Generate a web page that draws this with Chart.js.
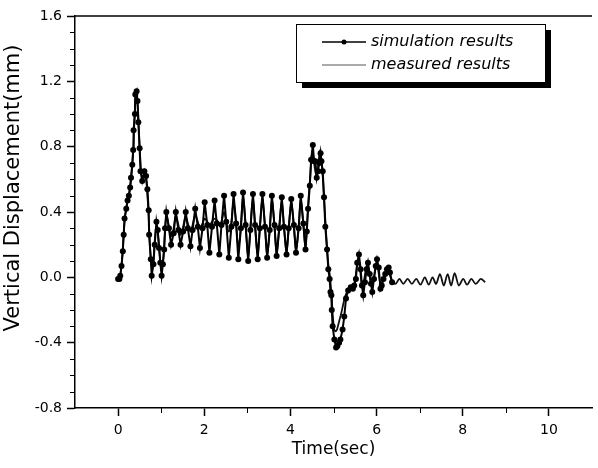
<!DOCTYPE html>
<html>
<head>
<meta charset="utf-8">
<script src="https://cdn.jsdelivr.net/npm/chart.js@4.4.0/dist/chart.umd.min.js"></script>
<style>
html, body { margin: 0; padding: 0; background: #fff; overflow: hidden; }
</style>
</head>
<body>
<canvas id="chart" width="598" height="468"></canvas>
<script>
// simulation results (dots)
const simTime = [
  0.00,0.03,0.05,0.08,0.11,0.13,0.15,0.19,0.22,0.25,0.28,0.30,0.33,0.35,0.36,0.39,0.40,0.43,0.45,0.47,
  0.50,0.52,0.56,0.61,0.65,0.68,0.71,0.72,0.76,0.78,0.82,0.85,0.89,0.92,0.95,0.98,1.01,1.04,1.07,1.09,
  1.12,1.18,1.23,1.29, 1.34,1.40,1.45,1.51, 1.57,1.62,1.68,1.73, 1.79,1.85,1.90,1.96,
  2.01,2.07,2.12,2.18, 2.24,2.29,2.35,2.40, 2.46,2.51,2.57,2.63, 2.68,2.74,2.79,2.85,
  2.90,2.96,3.02,3.07, 3.13,3.18,3.24,3.29, 3.35,3.41,3.46,3.52, 3.57,3.63,3.68,3.74,
  3.80,3.85,3.91,3.96, 4.02,4.08,4.13,4.19, 4.24,4.30,4.35,
  4.38,4.41,4.45,4.48,4.52,4.55,4.58,4.61,4.64,4.67,4.70,4.72,4.75,4.78,4.81,4.85,4.88,4.91,4.93,4.95,
  4.96,4.98,5.02,5.06,5.09,5.13,5.16,5.21,5.25,5.29,5.34,5.40,5.45,5.48,5.52,5.55,5.59,5.63,5.66,5.69,
  5.73,5.77,5.80,5.84,5.87,5.90,5.94,5.98,6.01,6.05,6.09,6.12,6.16,6.20,6.24,6.28,6.31,6.36
];
const simDisp = [
  -0.01,-0.01,0.01,0.07,0.16,0.26,0.36,0.42,0.47,0.50,0.55,0.61,0.69,0.78,0.90,1.00,1.12,1.14,1.08,0.95,
  0.79,0.65,0.59,0.65,0.62,0.54,0.41,0.26,0.11,0.01,0.08,0.20,0.34,0.29,0.18,0.09,0.01,0.08,0.17,0.30,
  0.40,0.30,0.20,0.27, 0.40,0.29,0.20,0.28, 0.40,0.30,0.19,0.29, 0.42,0.31,0.18,0.30,
  0.46,0.32,0.15,0.31, 0.47,0.33,0.14,0.32, 0.50,0.34,0.12,0.31, 0.51,0.33,0.11,0.30,
  0.52,0.32,0.10,0.29, 0.51,0.32,0.11,0.30, 0.51,0.31,0.12,0.29, 0.50,0.32,0.13,0.30,
  0.49,0.31,0.14,0.30, 0.48,0.32,0.15,0.30, 0.50,0.33,0.17,
  0.28,0.42,0.56,0.72,0.81,0.71,0.71,0.61,0.65,0.70,0.76,0.71,0.65,0.49,0.31,0.17,0.05,-0.01,-0.09,-0.11,
  -0.20,-0.30,-0.38,-0.43,-0.42,-0.40,-0.38,-0.32,-0.24,-0.13,-0.08,-0.06,-0.07,-0.05,-0.01,0.09,0.14,0.05,-0.05,-0.11,
  -0.03,0.05,0.09,0.02,-0.04,-0.09,-0.01,0.07,0.11,0.06,-0.07,-0.05,-0.01,0.02,0.05,0.06,0.03,-0.03
];

// measured results (thin line)
const measTime = [
  0.00,0.05,0.10,0.15,0.20,0.25,0.30,0.35,0.40,0.43,0.46,0.50,0.55,0.60,0.65,0.70,0.75,0.80,0.85,0.89,
  0.95,1.00,1.05,1.09,
  1.12,1.18,1.23,1.29, 1.34,1.40,1.45,1.51, 1.57,1.62,1.68,1.73, 1.79,1.85,1.90,1.96,
  2.01,2.07,2.12,2.18, 2.24,2.29,2.35,2.40, 2.46,2.51,2.57,2.63, 2.68,2.74,2.79,2.85,
  2.90,2.96,3.02,3.07, 3.13,3.18,3.24,3.29, 3.35,3.41,3.46,3.52, 3.57,3.63,3.68,3.74,
  3.80,3.85,3.91,3.96, 4.02,4.08,4.13,4.19, 4.24,4.30,4.35,
  4.38,4.42,4.46,4.50,4.53,4.57,4.61,4.65,4.69,4.72,4.76,4.80,4.84,4.88,4.92,4.95,4.98,5.01,5.04,5.08,
  5.13,5.18,5.23,5.28,5.34,5.40,5.46,5.50,5.54,5.58,5.62,5.67,5.72,5.78,5.83,5.89,5.94,5.99,6.04,6.09,
  6.14,6.19,6.25,6.30,6.35,
  6.44,6.53,6.62,6.72,6.82,6.92,7.02,7.12,7.21,7.30,7.38,7.47,7.56,7.65,7.73,7.81,7.91,8.01,8.10,8.20,
  8.30,8.42,8.52
];
const measDisp = [
  -0.01,0.01,0.14,0.34,0.44,0.50,0.60,0.77,1.08,1.12,1.04,0.80,0.62,0.62,0.60,0.42,0.15,0.05,0.22,0.32,
  0.20,0.05,0.12,0.28,
  0.38,0.31,0.25,0.30, 0.38,0.32,0.26,0.31, 0.37,0.33,0.28,0.32, 0.38,0.34,0.30,0.33,
  0.36,0.34,0.32,0.34, 0.36,0.35,0.33,0.34, 0.40,0.34,0.28,0.34, 0.46,0.33,0.18,0.31,
  0.50,0.32,0.12,0.30, 0.49,0.31,0.13,0.30, 0.49,0.31,0.13,0.29, 0.48,0.31,0.14,0.30,
  0.47,0.31,0.15,0.30, 0.46,0.31,0.16,0.30, 0.48,0.32,0.18,
  0.30,0.48,0.62,0.76,0.74,0.66,0.62,0.70,0.78,0.72,0.58,0.40,0.22,0.08,0.00,-0.10,-0.22,-0.31,-0.33,-0.32,
  -0.27,-0.22,-0.16,-0.11,-0.08,-0.06,-0.05,-0.02,0.06,0.11,0.04,-0.07,0.00,0.08,0.03,-0.06,0.00,0.08,0.04,-0.04,
  -0.02,0.02,0.04,0.02,-0.02,
  -0.04,-0.01,-0.04,-0.01,-0.04,-0.01,-0.045,0.00,-0.045,0.00,-0.04,0.02,-0.05,0.02,-0.05,0.025,-0.05,-0.01,-0.045,-0.01,
  -0.04,-0.01,-0.03
];

// minor tick positions
const minorX = [1, 3, 5, 7, 9];
const minorY = [-0.7,-0.6,-0.5,-0.3,-0.2,-0.1,0.1,0.2,0.3,0.5,0.6,0.7,0.9,1.0,1.1,1.3,1.4,1.5];

const FONT = '"DejaVu Sans", Arial, sans-serif';

// frame, minor ticks, y title and the boxed legend
const framePlugin = {
  id: 'frame',
  afterDraw(chart) {
    const { ctx, chartArea: a, scales } = chart;
    const x = scales.x, y = scales.y;
    ctx.save();
    ctx.strokeStyle = '#000';
    ctx.lineWidth = 1.5;
    ctx.beginPath();
    ctx.moveTo(a.left, a.top);
    ctx.lineTo(a.right, a.top);
    ctx.stroke();

    ctx.lineWidth = 1;
    ctx.beginPath();
    minorX.forEach(v => {
      const px = Math.round(x.getPixelForValue(v)) + 0.5;
      ctx.moveTo(px, a.bottom);
      ctx.lineTo(px, a.bottom + 5);
    });
    minorY.forEach(v => {
      const py = Math.round(y.getPixelForValue(v)) + 0.5;
      ctx.moveTo(a.left, py);
      ctx.lineTo(a.left - 5, py);
    });
    ctx.stroke();

    // y axis title
    ctx.save();
    ctx.translate(14, 188);
    ctx.rotate(-Math.PI / 2);
    ctx.font = '21px ' + FONT;
    ctx.fillStyle = '#000';
    ctx.textAlign = 'center';
    ctx.textBaseline = 'middle';
    ctx.fillText('Vertical Displacement(mm)', 0, 0);
    ctx.restore();

    // legend box with shadow
    const bx = 296, by = 24, bw = 249, bh = 58;
    ctx.fillStyle = '#000';
    ctx.fillRect(bx + 6, by + 6, bw, bh);
    ctx.fillStyle = '#fff';
    ctx.fillRect(bx, by, bw, bh);
    ctx.strokeStyle = '#000';
    ctx.lineWidth = 1;
    ctx.strokeRect(bx + 0.5, by + 0.5, bw, bh);

    const ds = chart.data.datasets;
    ctx.font = 'italic 16px ' + FONT;
    ctx.textAlign = 'left';
    ctx.textBaseline = 'middle';

    ctx.strokeStyle = '#000';
    ctx.lineWidth = 1.5;
    ctx.beginPath();
    ctx.moveTo(322, 42);
    ctx.lineTo(366, 42);
    ctx.stroke();
    ctx.fillStyle = '#000';
    ctx.beginPath();
    ctx.arc(344, 42, 2.5, 0, Math.PI * 2);
    ctx.fill();
    ctx.fillText(ds[0].label, 371, 42);

    ctx.strokeStyle = '#555';
    ctx.lineWidth = 1;
    ctx.beginPath();
    ctx.moveTo(322, 65);
    ctx.lineTo(366, 65);
    ctx.stroke();
    ctx.fillText(ds[1].label, 371, 65);
    ctx.restore();
  }
};

const ctx = document.getElementById('chart').getContext('2d');
new Chart(ctx, {
  type: 'line',
  data: {
    datasets: [
      {
        label: 'simulation results',
        data: simTime.map((t, i) => ({ x: t, y: simDisp[i] })),
        borderColor: '#000',
        borderWidth: 2,
        pointRadius: 3,
        pointBackgroundColor: '#000',
        pointBorderWidth: 0,
        tension: 0
      },
      {
        label: 'measured results',
        data: measTime.map((t, i) => ({ x: t, y: measDisp[i] })),
        borderColor: '#111',
        borderWidth: 1.8,
        pointRadius: 0,
        cubicInterpolationMode: 'monotone'
      }
    ]
  },
  options: {
    responsive: false,
    animation: false,
    devicePixelRatio: 1,
    layout: { padding: { top: 16, right: 0, left: 0, bottom: 0 } },
    plugins: {
      legend: { display: false },
      tooltip: { enabled: false }
    },
    scales: {
      x: {
        type: 'linear',
        min: -1,
        max: 11,
        afterFit: s => { s.height = 60; },
        ticks: {
          stepSize: 1,
          autoSkip: false,
          maxRotation: 0,
          padding: 6,
          color: '#000',
          font: { family: FONT, size: 14 },
          callback: v => (v % 2 === 0 ? String(v) : '')
        },
        grid: {
          display: true,
          drawOnChartArea: false,
          drawTicks: true,
          tickLength: 8,
          tickWidth: 1.5,
          tickColor: c => (c.tick && c.tick.value % 2 === 0 ? '#000' : 'rgba(0,0,0,0)')
        },
        border: { display: true, color: '#000', width: 1.5 },
        title: {
          display: true,
          text: 'Time(sec)',
          color: '#000',
          font: { family: FONT, size: 17 },
          padding: { top: 2, bottom: 8 }
        }
      },
      y: {
        min: -0.8,
        max: 1.6,
        afterFit: s => { s.width = 75; },
        ticks: {
          stepSize: 0.4,
          padding: 5,
          color: '#000',
          font: { family: FONT, size: 14 },
          callback: v => (Math.abs(v) < 1e-9 ? '0.0' : v.toFixed(1))
        },
        grid: {
          display: true,
          drawOnChartArea: false,
          drawTicks: true,
          tickLength: 8,
          tickWidth: 1.5,
          tickColor: '#000'
        },
        border: { display: true, color: '#000', width: 1.5 }
      }
    }
  },
  plugins: [framePlugin]
});
</script>
</body>
</html>
